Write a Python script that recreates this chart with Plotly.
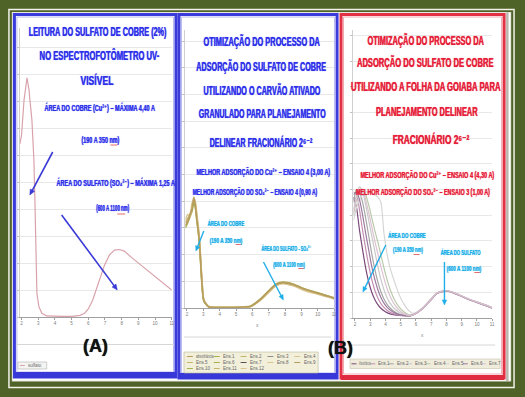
import json
import math
import plotly.graph_objects as go

W, H = 525, 397


def px(x):
    return x / W


def py(y):
    return 1 - y / H


# ---------------- data ----------------
tick_vals = [2, 3, 4, 5, 6, 7, 8, 9, 10, 11]
tick_text = ["2", "3", "4", "5", "6", "7", "8", "9", "10", "11"]

# Panel A : leitura do sulfato de cobre (x = comprimento de onda / 100 nm)
a_wl = [1.9, 2.0, 2.15, 2.27, 2.33, 2.39, 2.45, 2.5, 2.62, 2.68, 2.74, 2.8, 2.86, 2.92,
        3.04, 3.22, 3.5, 4.0, 4.5, 5.0, 5.5, 5.78, 6.0, 6.26, 6.67, 6.97, 7.27, 7.57,
        7.86, 8.16, 8.64, 9.2, 9.65, 10.2, 10.66, 11.0]
a_abs = [3.2, 3.37, 4.02, 4.30, 4.43, 4.31, 4.20, 4.02, 3.65, 3.28, 2.91, 2.17, 1.06, 0.44,
         0.19, 0.07, 0.02, 0.01, 0.01, 0.01, 0.03, 0.07, 0.15, 0.31, 0.69, 0.96, 1.15, 1.24,
         1.25, 1.22, 1.09, 0.95, 0.83, 0.70, 0.59, 0.50]

# Panel B : carvao ativado granulado
b_wl = [1.9, 2.05, 2.2, 2.3, 2.42, 2.5, 2.6, 2.73, 2.79, 2.91, 3.03, 3.33, 4.0, 5.0, 5.46,
        5.88, 6.48, 7.09, 7.45, 7.88, 8.48, 9.27, 10.12, 10.79, 11.0]
b_y1 = [3.2, 3.35, 3.55, 3.75, 4.16, 3.95, 3.41, 2.73, 2.28, 1.05, 0.30, 0.04, 0.02, 0.02,
        0.03, 0.05, 0.30, 0.67, 0.86, 0.94, 0.86, 0.67, 0.52, 0.40, 0.36]
b_y2 = [3.0, 3.2, 3.45, 3.6, 3.95, 3.8, 3.3, 2.6, 2.15, 0.95, 0.26, 0.05, 0.03, 0.03,
        0.04, 0.07, 0.33, 0.70, 0.90, 0.97, 0.90, 0.70, 0.55, 0.42, 0.38]
b_y3 = [3.3, 3.5, 3.4, 3.9, 4.05, 4.0, 3.55, 2.85, 2.35, 1.12, 0.33, 0.06, 0.03, 0.02,
        0.03, 0.06, 0.28, 0.63, 0.83, 0.91, 0.83, 0.64, 0.50, 0.38, 0.34]
b_y4 = [3.1, 3.25, 3.5, 3.7, 4.1, 3.9, 3.35, 2.7, 2.2, 1.0, 0.28, 0.05, 0.02, 0.02,
        0.04, 0.06, 0.31, 0.69, 0.88, 0.95, 0.88, 0.69, 0.53, 0.41, 0.37]
b_curves = [b_y1, b_y2, b_y3, b_y4]
b_colors = ["#c4b46c", "#a9ae4c", "#d8c690", "#b89c5e"]
b_legend_names = ["absorbância", "Ens.1", "Ens.2", "Ens.3", "Ens.4", "Ens.5", "Ens.6",
                  "Ens.7", "Ens.8", "Ens.9", "Ens.10", "Ens.11", "Ens.12"]
b_legend_colors = ["#b89c5e", "#a9ae4c", "#c4b46c", "#8c8c8c", "#d8c690", "#c4b46c",
                   "#a9ae4c", "#555555", "#d8c690", "#b89c5e", "#a9ae4c", "#c4b46c", "#d8c690"]

# Panel C : folha da goiaba
c_wl = [1.9, 2.1, 2.3, 2.5, 2.7, 2.9, 3.1, 3.3, 3.5, 3.7, 3.9, 4.1, 4.3, 4.6, 4.9, 5.2,
        5.5, 5.8, 6.3, 6.96, 7.41, 8.0, 8.52, 9.57, 10.48, 11.0]
c_y1 = [4.7, 4.3, 3.4, 2.65, 1.95, 1.4, 1.0, 0.72, 0.52, 0.38, 0.28, 0.21, 0.16, 0.12, 0.10,
        0.09, 0.08, 0.12, 0.31, 0.71, 0.98, 1.06, 0.98, 0.71, 0.52, 0.40]
c_y2 = [4.9, 4.8, 4.2, 3.4, 2.7, 2.05, 1.5, 1.08, 0.78, 0.56, 0.41, 0.30, 0.22, 0.15, 0.11,
        0.09, 0.08, 0.12, 0.30, 0.69, 0.96, 1.04, 0.96, 0.69, 0.50, 0.38]
c_y3 = [4.5, 5.0, 4.9, 4.5, 3.9, 3.2, 2.5, 1.9, 1.4, 1.02, 0.74, 0.54, 0.39, 0.24, 0.15,
        0.10, 0.08, 0.12, 0.31, 0.70, 0.97, 1.05, 0.97, 0.70, 0.51, 0.39]
c_y4 = [4.2, 4.8, 5.1, 4.9, 4.4, 3.8, 3.2, 2.6, 2.0, 1.5, 1.1, 0.80, 0.58, 0.36, 0.22,
        0.13, 0.09, 0.12, 0.32, 0.72, 0.99, 1.07, 0.99, 0.72, 0.53, 0.41]
c_y5 = [4.0, 4.6, 4.9, 5.0, 4.8, 4.4, 3.9, 3.4, 2.95, 2.45, 1.95, 1.5, 1.12, 0.70, 0.42,
        0.24, 0.13, 0.13, 0.31, 0.70, 0.97, 1.05, 0.97, 0.70, 0.51, 0.39]
c_y6 = [3.8, 4.3, 4.6, 4.8, 4.9, 4.9, 4.85, 4.8, 4.7, 4.5, 3.3, 2.5, 1.95, 1.4, 0.9,
        0.55, 0.30, 0.18, 0.32, 0.71, 0.98, 1.06, 0.98, 0.71, 0.52, 0.40]
c_y7 = [4.8, 4.9, 4.6, 4.0, 3.3, 2.65, 2.0, 1.5, 1.1, 0.8, 0.58, 0.42, 0.31, 0.20, 0.13,
        0.10, 0.08, 0.12, 0.30, 0.70, 0.97, 1.05, 0.97, 0.70, 0.51, 0.39]
c_y8 = [4.1, 4.7, 5.0, 5.0, 4.6, 4.1, 3.55, 3.0, 2.5, 2.0, 1.55, 1.15, 0.85, 0.52, 0.30,
        0.17, 0.10, 0.12, 0.31, 0.71, 0.98, 1.06, 0.98, 0.71, 0.52, 0.40]
c_curves = [c_y1, c_y2, c_y3, c_y4, c_y5, c_y6, c_y7, c_y8]
c_names = ["Absorbância", "Ens.1", "Ens.2", "Ens.3", "Ens.4", "Ens.5", "Ens.6", "Ens.7"]
c_colors = ["#7b4a7b", "#c38fb0", "#a6a6a6", "#c9c9c9", "#b9c9ab", "#d6d6d6", "#9c7aa0", "#dcc2d0"]

# ---------------- styles ----------------
FONT = "Liberation Sans, DejaVu Sans, Arial, sans-serif"
BLUE = "#3030ea"
CYAN = "#20aee8"
RED = "#e61e3a"
GREEN = "#4f6228"

CU = "Cu²⁺"
SO4 = "SO₄²⁻"
FRAC = "2⁶⁻²"

fig = go.Figure()

fig.add_trace(go.Scatter(x=a_wl, y=a_abs, mode="lines", line=dict(color="#d9a2ab", width=1.2),
                         xaxis="x", yaxis="y", showlegend=False))
for yv, col in zip(b_curves, b_colors):
    fig.add_trace(go.Scatter(x=b_wl, y=yv, mode="lines",
                             line=dict(color=col, width=1.6, shape="spline", smoothing=0.6),
                             xaxis="x2", yaxis="y2", showlegend=False))
for yv, col, nm in zip(c_curves, c_colors, c_names):
    fig.add_trace(go.Scatter(x=c_wl, y=yv, mode="lines", name=nm,
                             line=dict(color=col, width=1.2, shape="spline", smoothing=0.6),
                             xaxis="x3", yaxis="y3", showlegend=False))


def xax(x0, x1, anchor):
    return dict(domain=[px(x0), px(x1)], range=[1.9, 11], anchor=anchor,
                tickvals=tick_vals, ticktext=tick_text,
                tickfont=dict(size=4.5, color="#7a7a7a", family=FONT),
                showgrid=False, zeroline=False, showline=True, linecolor="#a0a0a0",
                linewidth=1, ticks="outside", ticklen=2, tickcolor="#a0a0a0", fixedrange=True)


def yax(base, top, rng, dtick, anchor):
    return dict(domain=[py(base), py(top)], range=[0, rng], anchor=anchor, dtick=dtick,
                showgrid=True, gridcolor="#e8e8e8", gridwidth=1, showticklabels=False,
                zeroline=False, showline=True, linecolor="#cfcfcf", ticks="outside",
                ticklen=2, tickcolor="#c0c0c0", fixedrange=True)


shapes = []
annotations = []
squeeze = []   # [wanted width, shrink only, left anchored] for each annotation text


def rect(x0, y0, x1, y1, line=None, lw=0, fill=None, layer="below"):
    d = dict(type="rect", xref="paper", yref="paper", x0=px(x0), x1=px(x1), y0=py(y0), y1=py(y1),
             layer=layer, line=dict(width=lw, color=line or "rgba(0,0,0,0)"))
    if fill:
        d["fillcolor"] = fill
    shapes.append(d)


def hline(x0, x1, y, color, w=1, layer="below"):
    shapes.append(dict(type="line", xref="paper", yref="paper", x0=px(x0), x1=px(x1), y0=py(y), y1=py(y),
                       line=dict(color=color, width=w), layer=layer))


def txt(x, y, s, size, color, bold=True, width=None, xanchor="center", maxw=None):
    font = dict(size=size, color=color, family=FONT)
    if bold:
        font["shadow"] = "0px 0px 0.8px %s" % color
    annotations.append(dict(x=px(x), y=py(y), xref="paper", yref="paper",
                            text=("<b>%s</b>" % s) if bold else s, showarrow=False,
                            font=font, xanchor=xanchor, yanchor="middle"))
    if width:
        squeeze.append([width, 0, 0])
    elif maxw:
        squeeze.append([maxw, 1, 1 if xanchor == "left" else 0])
    else:
        squeeze.append(None)


def arrow(x0, y0, x1, y1, color, w=1.6, head=5.5):
    """Pointer drawn as a line plus a filled triangular head (tail x0,y0 -> head x1,y1)."""
    L = math.hypot(x1 - x0, y1 - y0)
    ux, uy = (x1 - x0) / L, (y1 - y0) / L
    bx, by = x1 - ux * head, y1 - uy * head
    nx, ny = -uy, ux
    hw = head * 0.45
    shapes.append(dict(type="line", xref="paper", yref="paper", x0=px(x0), y0=py(y0),
                       x1=px(bx + ux * 1), y1=py(by + uy * 1), line=dict(color=color, width=w),
                       layer="above"))
    path = "M %.5f %.5f L %.5f %.5f L %.5f %.5f Z" % (
        px(x1), py(y1), px(bx + nx * hw), py(by + ny * hw), px(bx - nx * hw), py(by - ny * hw))
    shapes.append(dict(type="path", xref="paper", yref="paper", path=path, fillcolor=color,
                       line=dict(color=color, width=0.5), layer="above"))


# ---------------- frames ----------------
rect(9, 9.5, 517, 387.5, line="#f2f2e8", lw=1.5)
rect(12.5, 12.5, 513.5, 381, line="#e8e8e0", lw=1.2, fill="#ffffff")
# panel A
rect(14.5, 14.5, 177, 377, line="#3b3bdc", lw=3, fill="#ffffff")
rect(17, 17, 174.5, 372, line="#b9b9f2", lw=1)
rect(14.5, 372, 177, 378, fill="#3838d8")
# panel B
rect(180, 14.5, 339, 378, line="#3b3bdc", lw=3, fill="#ffffff")
rect(182.5, 17, 336.5, 373, line="#b9b9f2", lw=1)
rect(180, 373, 339, 379, fill="#3838d8")
# panel C
rect(343, 14.5, 507, 378, line="#e23045", lw=3, fill="#ffffff")
rect(345.5, 17, 504.5, 374, line="#f3a8b0", lw=1)
rect(343, 375, 507, 380, fill="#e02a40")
rect(509, 12.5, 511.5, 381, fill="#b8b8b0")

# separators under the plot areas
hline(16, 175, 344.5, "#d6d6d6")
hline(185, 333, 337, "#d6d6d6")
hline(350, 498, 345, "#d6d6d6")

# ---------------- legends (drawn boxes) ----------------
rect(18, 362, 47, 369, line="#b0b0b0", lw=0.6, fill="#f4f4f2")
hline(20, 25, 365.5, "#d9a2ab", 1)
txt(26, 365.5, "sulfato", 4.5, "#666666", bold=False, xanchor="left", maxw=19)

rect(185, 352, 320, 373, line="#b9b6a0", lw=0.6, fill="#f2efda")
b_cols = [188, 215, 242, 269, 296]
b_rows = [356.5, 362.5, 368.5]
for i, (nm, col) in enumerate(zip(b_legend_names, b_legend_colors)):
    xx = b_cols[i % 5]
    yy = b_rows[i // 5]
    hline(xx, xx + 6, yy, col, 1)
    txt(xx + 7.5, yy, nm, 4.5, "#666666", bold=False, xanchor="left", maxw=18)

rect(352, 359, 503, 368.5, line="#c6c2ae", lw=0.6, fill="#efecdc")
c_lx = [353.5, 372.5, 391, 409.5, 428, 447, 465.5, 484]
for xx, nm, col in zip(c_lx, c_names, c_colors):
    hline(xx, xx + 5, 363.8, col, 1)
    txt(xx + 6, 363.8, nm, 4.5, "#666666", bold=False, xanchor="left", maxw=12)

# small axis titles
txt(259, 325, "x", 5, "#8a8a8a", bold=False)
txt(425, 335, "x", 5, "#8a8a8a", bold=False)

# red spell-check underlines under "nm"
for (x0, x1, yy) in [(111, 118, 145), (118, 126, 214), (237, 243, 244.5),
                     (300, 306, 268.5), (416, 422, 254.5), (477, 483, 272.5)]:
    hline(x0, x1, yy, "#e04848", 0.8, layer="above")

# ---------------- panel texts ----------------
TS = 13    # title font size (condensed to the widths)
SS = 9     # sub-title size
CS = 8     # cyan labels
txt(98, 31, "LEITURA DO SULFATO DE COBRE (2%)", TS, BLUE, width=138)
txt(100, 55, "NO ESPECTROFOTÔMETRO UV-", TS, BLUE, width=120)
txt(98, 81, "VISÍVEL", TS, BLUE, width=33)
txt(101, 108, "ÁREA DO COBRE (%s) – MÁXIMA 4,40 A" % CU, SS, BLUE, width=111)
txt(101, 140, "(190 A 350 nm)", SS, BLUE, width=38)
txt(117, 183, "ÁREA DO SULFATO (%s) – MÁXIMA 1,25 A" % SO4, SS, BLUE, width=119)
txt(113, 208, "(600 A 1100 nm)", SS, BLUE, width=33)
arrow(53, 152, 30, 195, "#3a3ad6")
arrow(62, 215, 118, 290, "#3a3ad6")

txt(264, 42, "OTIMIZAÇÃO DO PROCESSO DA", TS, BLUE, width=117)
txt(263, 66, "ADSORÇÃO DO SULFATO DE COBRE", TS, BLUE, width=130)
txt(264, 90, "UTILIZANDO O CARVÃO ATIVADO", TS, BLUE, width=117)
txt(264, 113, "GRANULADO PARA PLANEJAMENTO", TS, BLUE, width=127)
txt(262, 142, "DELINEAR FRACIONÁRIO %s" % FRAC, TS, BLUE, width=103)
txt(265, 172, "MELHOR ADSORÇÃO DO %s – ENSAIO 4 (3,00 A)" % CU, SS, BLUE, width=134)
txt(256, 192, "MELHOR ADSORÇÃO DO %s – ENSAIO 4 (0,90 A)" % SO4, SS, BLUE, width=125)
txt(227, 223, "ÁREA DO COBRE", CS, CYAN, width=37)
txt(227, 240, "(190 A 350 nm)", CS, CYAN, width=33)
txt(288, 248, "ÁREA DO SULFATO - %s" % SO4, CS, CYAN, width=50)
txt(291, 264, "(600 A 1100 nm)", CS, CYAN, width=32)
arrow(205, 231, 197, 251, CYAN, 1.4, 5)
arrow(265, 262, 285, 300, CYAN, 1.4, 5)

txt(428, 40, "OTIMIZAÇÃO DO PROCESSO DA", TS, RED, width=117)
txt(428, 63, "ADSORÇÃO DO SULFATO DE COBRE", TS, RED, width=137)
txt(428, 87, "UTILIZANDO A FOLHA DA GOIABA PARA", TS, RED, width=150)
txt(429, 111, "PLANEJAMENTO DELINEAR", TS, RED, width=102)
txt(433, 140, "FRACIONÁRIO %s" % FRAC, TS, RED, width=77)
txt(430, 175, "MELHOR ADSORÇÃO DO %s – ENSAIO 4 (4,30 A)" % CU, SS, RED, width=134)
txt(425, 192, "MELHOR ADSORÇÃO DO %s – ENSAIO 3 (1,00 A)" % SO4, SS, RED, width=134)
txt(409, 235, "ÁREA DO COBRE", CS, CYAN, width=38)
txt(410, 250, "(190 A 350 nm)", CS, CYAN, width=30)
txt(463, 252, "ÁREA DO SULFATO", CS, CYAN, width=40)
txt(467, 268, "(600 A 1100 nm)", CS, CYAN, width=35)
arrow(388, 245, 365, 292, CYAN, 1.4, 5)
arrow(447, 262, 447, 305, CYAN, 1.4, 5)

txt(96, 346, "(A)", 18, "#111111")
txt(342, 348, "(B)", 18, "#111111")

fig.update_layout(
    width=W, height=H, margin=dict(l=0, r=0, t=0, b=0),
    paper_bgcolor=GREEN, plot_bgcolor="rgba(0,0,0,0)",
    showlegend=False,
    xaxis=xax(20, 172.7, "y"),
    yaxis=yax(317, 28, (317 - 28) / 54.0, 0.5, "x"),
    xaxis2=xax(186.4, 336, "y2"),
    yaxis2=yax(308, 30, (308 - 30) / 26.7, 1, "x2"),
    xaxis3=xax(355.5, 495, "y3"),
    yaxis3=yax(318, 30, (318 - 30) / 25.7, 1, "x3"),
    shapes=shapes, annotations=annotations,
)

# The page has the browser's default 8px body margin; remove it, and squeeze the
# condensed poster lettering horizontally to the widths measured on the picture.
post = """
document.body.style.margin = '0';
document.body.style.overflow = 'hidden';
var gd = document.getElementById('{plot_id}');
var sq = %s;
gd.querySelectorAll('g.annotation').forEach(function (g) {
  var i = +g.getAttribute('data-index');
  var o = sq[i];
  if (!o) return;
  var t = g.querySelector('text.annotation-text');
  if (!t) return;
  var bb = t.getBBox();
  if (!bb.width) return;
  var w = o[0];
  if (o[1] && bb.width <= w) return;
  var s = w / bb.width;
  var cx = o[2] ? bb.x : bb.x + bb.width / 2;
  t.setAttribute('transform', 'translate(' + cx + ',0) scale(' + s + ',1) translate(' + (-cx) + ',0)');
});
""" % json.dumps(squeeze)

fig.write_html("out.html", post_script=post, config={"displayModeBar": False, "staticPlot": True})
